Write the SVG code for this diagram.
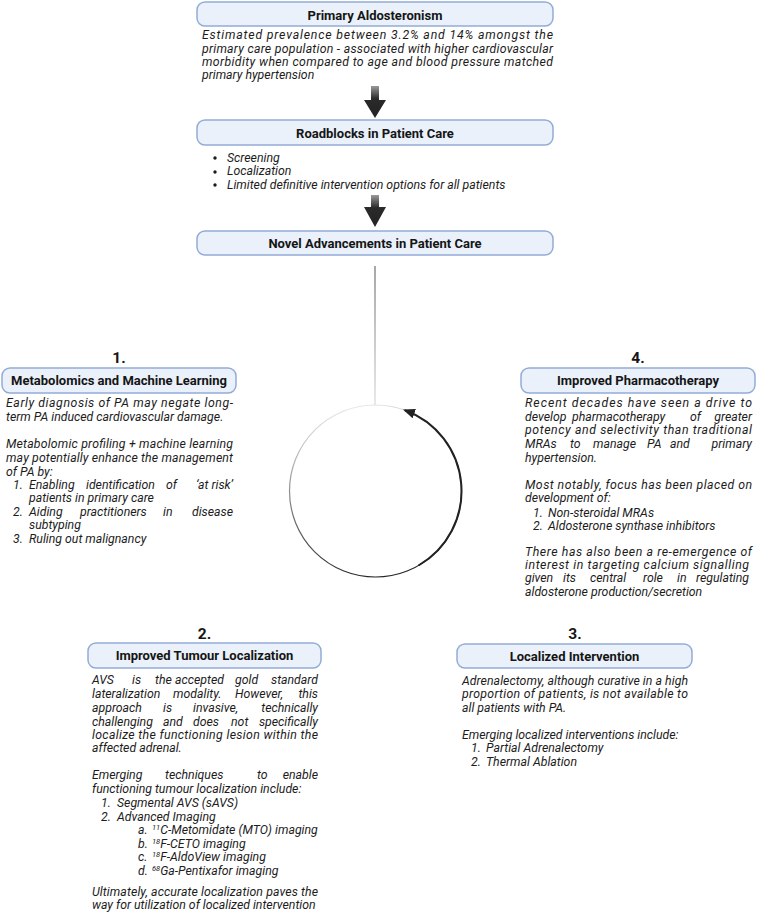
<svg xmlns="http://www.w3.org/2000/svg" width="757" height="919" viewBox="0 0 757 919">
<style>
.box{fill:#eaf1fb;stroke:#93acd6;stroke-width:1.5}
.ti{font-family:Roboto,"Liberation Sans",sans-serif;font-weight:bold;font-size:13px;text-anchor:middle;fill:#151515}
.num{font-family:Roboto,"Liberation Sans",sans-serif;font-weight:bold;font-size:15.5px;text-anchor:middle;fill:#151515}
.b{font-family:Roboto,"Liberation Sans",sans-serif;font-style:italic;font-size:12.3px;fill:#1c1c1c}
.e{text-anchor:end}
.sup{font-size:7.5px}
</style>
<defs>
<linearGradient id="ag" x1="0" y1="0" x2="0" y2="1">
<stop offset="0" stop-color="#9a9a9a"/><stop offset="0.4" stop-color="#2a2a2a"/><stop offset="1" stop-color="#222"/>
</linearGradient>
<linearGradient id="lg" gradientUnits="userSpaceOnUse" x1="375" y1="266" x2="375" y2="405">
<stop offset="0" stop-color="#8a8a8a"/><stop offset="1" stop-color="#e2e2e2"/>
</linearGradient>
<linearGradient id="cg" gradientUnits="userSpaceOnUse" x1="360" y1="405" x2="400" y2="577">
<stop offset="0" stop-color="#e6e6e6"/><stop offset="0.5" stop-color="#777"/><stop offset="1" stop-color="#222"/>
</linearGradient>
<marker id="ah" markerUnits="userSpaceOnUse" markerWidth="14" markerHeight="12" refX="10" refY="5" orient="auto">
<path d="M0,0 L12,5 L0,10 Z" fill="#222"/>
</marker>
</defs>

<g id="connectors">
<path d="M371,86 H379 V100 H386 L375,118 L364,100 H371 Z" fill="url(#ag)"/>
<path d="M371,195 H379 V207 H386 L375,227 L364,207 H371 Z" fill="url(#ag)"/>
<line x1="375" y1="266" x2="375" y2="405" stroke="url(#lg)" stroke-width="1.5"/>
<circle cx="375.5" cy="491" r="86" fill="none" stroke="url(#cg)" stroke-width="1.2"/>
<path d="M418.5,565.5 A86,86 0 0 0 404.9,410.2" fill="none" stroke="#222" stroke-width="2" marker-end="url(#ah)"/>
</g>

<g id="n-primary">
<rect class="box" x="197" y="2" width="356" height="24" rx="8"/>
<text class="ti" x="375" y="19.5">Primary Aldosteronism</text>
<text class="b" x="202" y="39" textLength="351" lengthAdjust="spacing">Estimated prevalence between 3.2% and 14% amongst the</text>
<text class="b" x="202" y="52.5" textLength="351" lengthAdjust="spacing">primary care population - associated with higher cardiovascular</text>
<text class="b" x="202" y="66" textLength="351" lengthAdjust="spacing">morbidity when compared to age and blood pressure matched</text>
<text class="b" x="202" y="79">primary hypertension</text>
</g>

<g id="n-roadblocks">
<rect class="box" x="197" y="120" width="356" height="25" rx="8"/>
<text class="ti" x="375" y="137.5">Roadblocks in Patient Care</text>
<circle cx="215" cy="158" r="1.7" fill="#1c1c1c"/>
<circle cx="215" cy="172" r="1.7" fill="#1c1c1c"/>
<circle cx="215" cy="185" r="1.7" fill="#1c1c1c"/>
<text class="b" x="227" y="161.5">Screening</text>
<text class="b" x="227" y="175">Localization</text>
<text class="b" x="227" y="188.5">Limited definitive intervention options for all patients</text>
</g>

<g id="n-novel">
<rect class="box" x="197" y="231" width="356" height="24" rx="8"/>
<text class="ti" x="375" y="247.5">Novel Advancements in Patient Care</text>
</g>

<g id="n-1">
<text class="num" x="119" y="362.5">1.</text>
<rect class="box" x="2" y="368" width="234" height="25" rx="8"/>
<text class="ti" x="119" y="385">Metabolomics and Machine Learning</text>
<text class="b" x="6" y="407" textLength="227" lengthAdjust="spacing">Early diagnosis of PA may negate long-</text>
<text class="b" x="6" y="421">term PA induced cardiovascular damage.</text>
<text class="b" x="6" y="448" textLength="227" lengthAdjust="spacing">Metabolomic profiling + machine learning</text>
<text class="b" x="6" y="462" textLength="227" lengthAdjust="spacing">may potentially enhance the management</text>
<text class="b" x="6" y="476">of PA by:</text>
<text class="b" x="13" y="489">1.</text>
<text class="b" x="29" y="489">Enabling</text>
<text class="b" x="86" y="489">identification</text>
<text class="b" x="166" y="489">of</text>
<text class="b e" x="233" y="489">‘at risk’</text>
<text class="b" x="29" y="502">patients in primary care</text>
<text class="b" x="13" y="516">2.</text>
<text class="b" x="29" y="516">Aiding</text>
<text class="b" x="80" y="516">practitioners</text>
<text class="b" x="163" y="516">in</text>
<text class="b e" x="233" y="516">disease</text>
<text class="b" x="29" y="529">subtyping</text>
<text class="b" x="13" y="543">3.</text>
<text class="b" x="29" y="543">Ruling out malignancy</text>
</g>

<g id="n-4">
<text class="num" x="638" y="362.5">4.</text>
<rect class="box" x="521" y="368" width="234" height="25" rx="8"/>
<text class="ti" x="638" y="385">Improved Pharmacotherapy</text>
<text class="b" x="525" y="407" textLength="227" lengthAdjust="spacing">Recent decades  have seen a drive to</text>
<text class="b" x="525" y="421">develop</text>
<text class="b" x="572" y="421">pharmacotherapy</text>
<text class="b" x="690" y="421">of</text>
<text class="b e" x="752" y="421">greater</text>
<text class="b" x="525" y="434" textLength="227" lengthAdjust="spacing">potency and selectivity than traditional</text>
<text class="b" x="525" y="448">MRAs</text>
<text class="b" x="570" y="448">to</text>
<text class="b" x="593" y="448">manage</text>
<text class="b" x="647" y="448">PA</text>
<text class="b" x="670" y="448">and</text>
<text class="b e" x="752" y="448">primary</text>
<text class="b" x="525" y="462">hypertension.</text>
<text class="b" x="525" y="489" textLength="227" lengthAdjust="spacing">Most notably, focus has been placed on</text>
<text class="b" x="525" y="502">development of:</text>
<text class="b" x="533" y="517">1.</text>
<text class="b" x="548" y="517">Non-steroidal MRAs</text>
<text class="b" x="533" y="530">2.</text>
<text class="b" x="548" y="530">Aldosterone synthase inhibitors</text>
<text class="b" x="525" y="556" textLength="227" lengthAdjust="spacing">There has also been a re-emergence of</text>
<text class="b" x="525" y="569" textLength="224" lengthAdjust="spacing">interest in targeting calcium signalling</text>
<text class="b" x="525" y="582">given</text>
<text class="b" x="563" y="582">its</text>
<text class="b" x="590" y="582">central</text>
<text class="b" x="643" y="582">role</text>
<text class="b" x="677" y="582">in</text>
<text class="b e" x="749" y="582">regulating</text>
<text class="b" x="525" y="596">aldosterone production/secretion</text>
</g>

<g id="n-2">
<text class="num" x="204.5" y="638.5">2.</text>
<rect class="box" x="88" y="643" width="233" height="25" rx="8"/>
<text class="ti" x="204.5" y="660">Improved Tumour Localization</text>
<text class="b" x="92" y="684">AVS</text>
<text class="b" x="132" y="684">is</text>
<text class="b" x="155" y="684">the</text>
<text class="b" x="175" y="684">accepted</text>
<text class="b" x="235" y="684">gold</text>
<text class="b e" x="318" y="684">standard</text>
<text class="b" x="92" y="698">lateralization</text>
<text class="b" x="173" y="698">modality.</text>
<text class="b" x="235" y="698">However,</text>
<text class="b e" x="318" y="698">this</text>
<text class="b" x="92" y="712">approach</text>
<text class="b" x="163" y="712">is</text>
<text class="b" x="193" y="712">invasive,</text>
<text class="b e" x="318" y="712">technically</text>
<text class="b" x="92" y="726">challenging</text>
<text class="b" x="163" y="726">and</text>
<text class="b" x="193" y="726">does</text>
<text class="b" x="231" y="726">not</text>
<text class="b e" x="318" y="726">specifically</text>
<text class="b" x="92" y="739" textLength="226" lengthAdjust="spacing">localize the functioning lesion within the</text>
<text class="b" x="92" y="752">affected adrenal.</text>
<text class="b" x="92" y="779">Emerging</text>
<text class="b" x="165" y="779">techniques</text>
<text class="b" x="257" y="779">to</text>
<text class="b e" x="318" y="779">enable</text>
<text class="b" x="92" y="793">functioning tumour localization include:</text>
<text class="b" x="101" y="807">1.</text>
<text class="b" x="117" y="807">Segmental AVS (sAVS)</text>
<text class="b" x="101" y="821">2.</text>
<text class="b" x="117" y="821">Advanced Imaging</text>
<text class="b" x="138" y="834">a.</text>
<text class="b" x="152" y="834"><tspan class="sup" dy="-4">11</tspan><tspan dy="4">C-Metomidate (MTO) imaging</tspan></text>
<text class="b" x="138" y="848">b.</text>
<text class="b" x="152" y="848"><tspan class="sup" dy="-4">18</tspan><tspan dy="4">F-CETO imaging</tspan></text>
<text class="b" x="138" y="861">c.</text>
<text class="b" x="152" y="861"><tspan class="sup" dy="-4">18</tspan><tspan dy="4">F-AldoView imaging</tspan></text>
<text class="b" x="138" y="875">d.</text>
<text class="b" x="152" y="875"><tspan class="sup" dy="-4">68</tspan><tspan dy="4">Ga-Pentixafor imaging</tspan></text>
<text class="b" x="92" y="896" textLength="226" lengthAdjust="spacing">Ultimately, accurate localization paves the</text>
<text class="b" x="92" y="909">way for utilization of localized intervention</text>
</g>

<g id="n-3">
<text class="num" x="575" y="638.5">3.</text>
<rect class="box" x="457" y="644" width="235" height="24" rx="8"/>
<text class="ti" x="574.5" y="660.5">Localized Intervention</text>
<text class="b" x="462" y="685" textLength="226" lengthAdjust="spacing">Adrenalectomy, although curative in a high</text>
<text class="b" x="462" y="698" textLength="226" lengthAdjust="spacing">proportion of patients, is not available to</text>
<text class="b" x="462" y="712">all patients with PA.</text>
<text class="b" x="462" y="739">Emerging localized interventions include:</text>
<text class="b" x="471" y="752">1.</text>
<text class="b" x="486" y="752">Partial Adrenalectomy</text>
<text class="b" x="471" y="766">2.</text>
<text class="b" x="486" y="766">Thermal Ablation</text>
</g>
</svg>
